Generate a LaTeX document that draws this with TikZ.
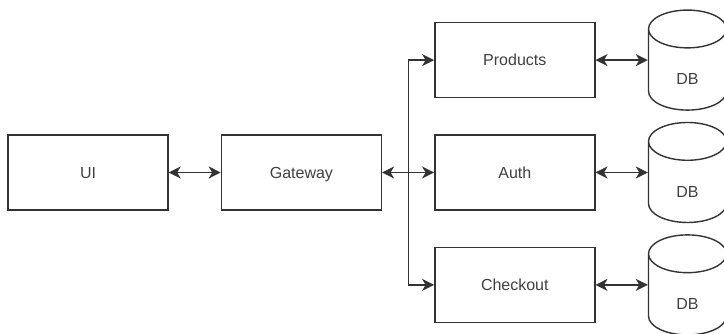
\documentclass[tikz,border=0pt]{standalone}
\usepackage{fontspec}
\setmainfont{Liberation Sans}
\usepackage{xcolor}
\usepackage{tikz}
\usetikzlibrary{positioning}
\usetikzlibrary{shapes.geometric}
\usetikzlibrary{arrows.meta}
\definecolor{line_grey}{HTML}{333333}
\definecolor{text_grey}{HTML}{404040}
\tikzstyle{svc_box} = [draw = line_grey, line width = 1.4, minimum width = 160, minimum height = 75, inner sep = 0, text height = 11.5, text depth = 0, text = text_grey, font = \fontsize{16}{18}\selectfont]
\tikzstyle{db_store} = [draw = line_grey, line width = 1.4, shape = cylinder, shape border rotate = 90, aspect = 1.7, minimum width = 78, minimum height = 100, inner sep = 0, text height = 29.5, text depth = 0, text = text_grey, font = \fontsize{16}{18}\selectfont]
\tikzstyle{link_both} = [draw = line_grey, line width = 1.4, {Stealth[length = 12pt, width = 12pt, inset = 3.5pt]}-{Stealth[length = 12pt, width = 12pt, inset = 3.5pt]}]
\tikzstyle{link_to} = [draw = line_grey, line width = 1.4, -{Stealth[length = 12pt, width = 12pt, inset = 3.5pt]}]

\begin{document}
\begin{tikzpicture}[x = 1pt, y = 1pt]
        \useasboundingbox (0, 0) rectangle (724, 334);
        % services
        \node [style = {svc_box}] (ui) at (88, 161.5) {UI};
        \node [style = {svc_box}, right = 52 of ui] (gateway) {Gateway};
        \node [style = {svc_box}, right = 52 of gateway] (auth) {Auth};
        \node [style = {svc_box}, above = 36 of auth] (products) {Products};
        \node [style = {svc_box}, below = 36 of auth] (checkout) {Checkout};
        % databases
        \node [style = {db_store}, anchor = shape center] (products_db) at ([xshift = 92] products.east) {DB};
        \node [style = {db_store}, anchor = shape center] (auth_db) at ([xshift = 92] auth.east) {DB};
        \node [style = {db_store}, anchor = shape center] (checkout_db) at ([xshift = 92] checkout.east) {DB};
        % links
        \coordinate (fork) at ([xshift = 26.5] gateway.east);
        \draw [style = {link_both}] (ui) -- (gateway);
        \draw [style = {link_both}] (gateway) -- (auth);
        \draw [style = {link_to}] (fork) |- (products);
        \draw [style = {link_to}] (fork) |- (checkout);
        \draw [style = {link_both}] (products.east) -- (products.east -| products_db.west);
        \draw [style = {link_both}] (auth.east) -- (auth.east -| auth_db.west);
        \draw [style = {link_both}] (checkout.east) -- (checkout.east -| checkout_db.west);
    \end{tikzpicture}
\end{document}
